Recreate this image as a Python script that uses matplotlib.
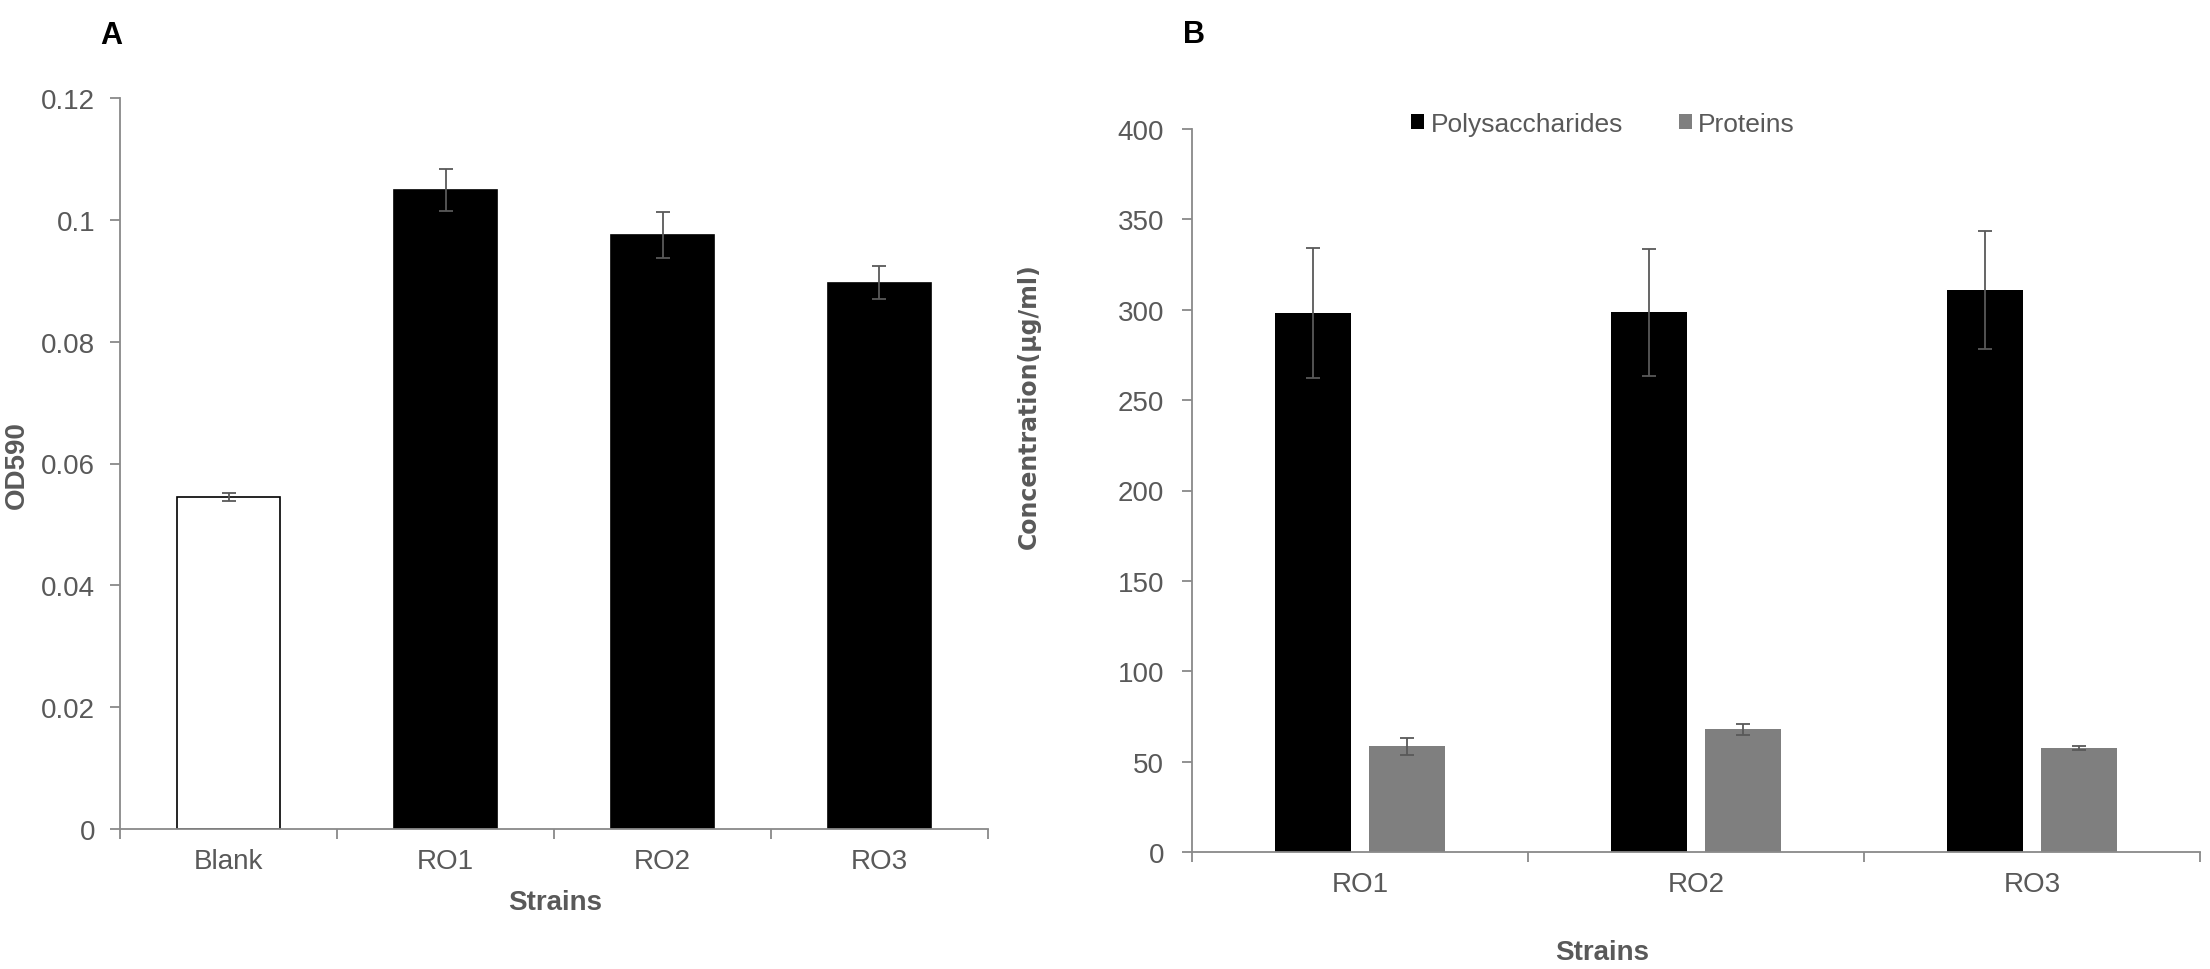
import matplotlib.pyplot as plt
from matplotlib.patches import Patch
import numpy as np

plt.rcParams['font.family'] = ['Liberation Sans', 'DejaVu Sans']

# ===================== data =====================
strains_a = ["Blank", "RO1", "RO2", "RO3"]
od590 = [0.0545, 0.1049, 0.0975, 0.0897]
od590_err = [0.0007, 0.0035, 0.0038, 0.0027]
colors_a = ["white", "black", "black", "black"]

strains_b = ["RO1", "RO2", "RO3"]
polysacch = [298.0, 298.5, 311.0]
polysacch_err = [36.0, 35.0, 32.5]
proteins = [58.6, 67.8, 57.6]
proteins_err = [4.7, 3.2, 0.9]

AXIS_GREY = "#898989"
TEXT_GREY = "#595959"
ERR_GREY = "#595959"

fig = plt.figure(figsize=(22.1, 9.7), dpi=100)


def style_axes(ax, n, ypad):
    for s in ("top", "right"):
        ax.spines[s].set_visible(False)
    for s in ("left", "bottom"):
        ax.spines[s].set_color(AXIS_GREY)
        ax.spines[s].set_linewidth(1.3)
    ax.set_xlim(-0.5, n - 0.5)
    ax.set_xticks(np.arange(-0.5, n, 1.0))
    ax.set_xticklabels([])
    ax.tick_params(axis="x", which="major", direction="out", length=7,
                   width=1.3, color=AXIS_GREY)
    ax.tick_params(axis="y", direction="out", length=7, width=1.3,
                   color=AXIS_GREY, labelsize=20, labelcolor=TEXT_GREY, pad=ypad)
    ax.tick_params(axis="x", which="minor", length=0, labelsize=20,
                   labelcolor=TEXT_GREY, pad=14)


# ===================== panel A =====================
axA = fig.add_axes([120 / 2210, 1 - 830 / 970, 868 / 2210, 731 / 970])
xa = np.arange(len(strains_a))
axA.bar(xa, od590, width=0.475, color=colors_a, edgecolor="black",
        linewidth=1.2, zorder=2)
axA.errorbar(xa, od590, yerr=od590_err, fmt="none", ecolor=ERR_GREY,
             elinewidth=1.3, capsize=5, capthick=1.3, zorder=3)
axA.set_ylim(0, 0.12)
axA.set_yticks([0, 0.02, 0.04, 0.06, 0.08, 0.1, 0.12])
axA.set_yticklabels(["0", "0.02", "0.04", "0.06", "0.08", "0.1", "0.12"])
style_axes(axA, len(strains_a), 11)
axA.set_xticks(xa, minor=True)
axA.set_xticklabels(strains_a, minor=True)

# ===================== panel B =====================
axB = fig.add_axes([1192 / 2210, 1 - 853 / 970, 1008 / 2210, 723 / 970])
xb = np.arange(len(strains_b))
bw = 0.226
off = 0.14
axB.bar(xb - off, polysacch, width=bw, color="black", zorder=2,
        label="Polysaccharides")
axB.bar(xb + off, proteins, width=bw, color="#7f7f7f", zorder=2,
        label="Proteins")
axB.errorbar(xb - off, polysacch, yerr=polysacch_err, fmt="none",
             ecolor=ERR_GREY, elinewidth=1.3, capsize=5, capthick=1.3, zorder=3)
axB.errorbar(xb + off, proteins, yerr=proteins_err, fmt="none",
             ecolor=ERR_GREY, elinewidth=1.3, capsize=5, capthick=1.3, zorder=3)
axB.set_ylim(0, 400)
axB.set_yticks(range(0, 401, 50))
style_axes(axB, len(strains_b), 13)
axB.set_xticks(xb, minor=True)
axB.set_xticklabels(strains_b, minor=True)

handles = [Patch(facecolor="black", edgecolor="none"),
           Patch(facecolor="#7f7f7f", edgecolor="none")]
leg = fig.legend(handles, ["Polysaccharides", "Proteins"], loc="center",
                 bbox_to_anchor=(1603 / 2210, 1 - 125 / 970), ncol=2,
                 frameon=False, fontsize=19, handlelength=0.5, handleheight=0.5,
                 handletextpad=0.25, columnspacing=2.1)
for t in leg.get_texts():
    t.set_color(TEXT_GREY)

# ===================== labels =====================
fig.text(17 / 2210, 1 - 465 / 970, "OD590", rotation=90, ha="center",
         va="center", fontsize=20, fontweight="bold", color=TEXT_GREY)
fig.text(555 / 2210, 1 - 903 / 970, "Strains", ha="center", va="center",
         fontsize=20, fontweight="bold", color=TEXT_GREY)
fig.text(1029 / 2210, 1 - 406 / 970, "Concentration(µg/ml)", rotation=90,
         ha="center", va="center", fontsize=17, fontweight="bold",
         color=TEXT_GREY, family="DejaVu Sans")
fig.text(1602 / 2210, 1 - 953 / 970, "Strains", ha="center", va="center",
         fontsize=20, fontweight="bold", color=TEXT_GREY)

fig.text(111 / 2210, 1 - 36 / 970, "A", ha="center", va="center",
         fontsize=22, fontweight="bold", color="black")
fig.text(1194 / 2210, 1 - 35 / 970, "B", ha="center", va="center",
         fontsize=22, fontweight="bold", color="black")

fig.savefig("out.png", dpi=100)
